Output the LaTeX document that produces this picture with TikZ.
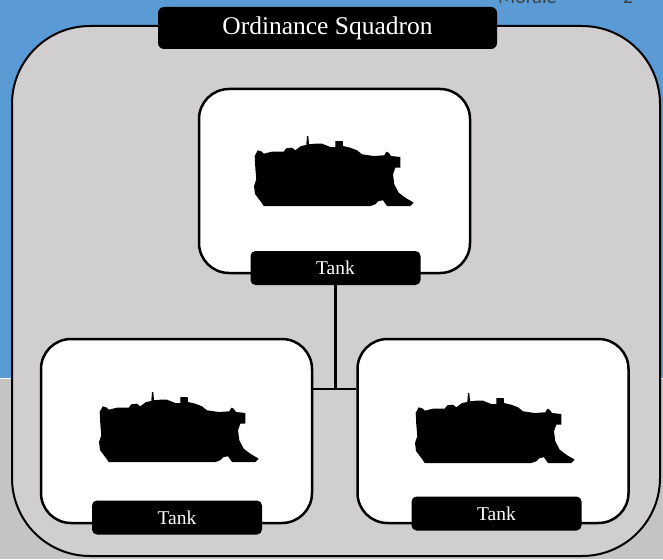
\documentclass[tikz,border=0pt]{standalone}
\usepackage{fontspec}
\newfontfamily\carl{Carlito}
\newfontfamily\labelfont{Liberation Serif}
\definecolor{skyblue}{RGB}{91,155,213}
\definecolor{stone}{RGB}{196,196,196}
\definecolor{panel}{RGB}{208,206,206}
\definecolor{moralegray}{RGB}{64,64,64}
\tikzset{
  outerbox/.style={draw=black, line width=2pt, fill=panel, rounded corners=78pt,
    minimum width=648pt, minimum height=530pt, inner sep=0pt},
  unitbox/.style={draw=black, line width=2.5pt, fill=white, rounded corners=30pt,
    minimum width=271pt, minimum height=184pt, inner sep=0pt},
  titlebox/.style={fill=black, rounded corners=6pt, text=white,
    minimum width=339pt, minimum height=42pt, inner sep=0pt,
    font=\labelfont\fontsize{25.5}{25.5}\selectfont},
  labelbox/.style={fill=black, rounded corners=5pt, text=white,
    minimum width=170pt, minimum height=34pt, inner sep=0pt,
    font=\labelfont\fontsize{19.5}{19.5}\selectfont},
  conn/.style={draw=black, line width=2.5pt},
  tank/.pic={
    \fill[black] (11.7,0) -- (9,-4) -- (6,-8) -- (3,-12) -- (2,-20)
      -- (4.3,-26.7) -- (3.3,-38.3) -- (2.7,-50) -- (5.7,-55.7) -- (10,-54.3)
      -- (11.7,-52.3) -- (20,-54.3) -- (31.7,-54.3) -- (34.3,-57.7) -- (40,-58.3)
      -- (43.3,-55.7) -- (49,-60) -- (54.3,-61) -- (55,-70) -- (56.3,-70)
      -- (57,-61.7) -- (63.3,-62.3) -- (70,-62.3) -- (78.3,-59) -- (83.3,-59)
      -- (83.3,-65) -- (90.7,-65) -- (91,-60) -- (98.3,-58.3) -- (105,-55.7)
      -- (110,-51.7) -- (121.7,-50) -- (132.3,-50.7) -- (134.3,-54.3)
      -- (136.7,-53.3) -- (139,-50) -- (148.3,-49) -- (148.3,-38.3)
      -- (143.3,-38.3) -- (141,-31.7) -- (142.3,-21.7) -- (146.7,-13.3)
      -- (153.3,-8.3) -- (161.7,-3.3) -- (158.3,0) -- (135,0) -- (131,-5.7)
      -- (126.7,-5) -- (123.3,-1.7) -- (118.3,0) -- cycle;
  }
}
\begin{document}
\begin{tikzpicture}[x=1pt, y=-1pt]
\useasboundingbox (0,0) rectangle (663,559);
% background
\fill[skyblue] (0,0) rectangle (663,378);
\fill[stone] (0,378) rectangle (663,559);
\draw[white, line width=1pt] (0,378) -- (663,378);
\node[anchor=base west, text=moralegray, font=\carl\fontsize{20}{20}\selectfont, inner sep=0pt]
  (morale) at (498,3.3) {Morale};
\node[anchor=base west, text=moralegray, font=\carl\fontsize{20}{20}\selectfont, inner sep=0pt]
  (moraleval) at (623,3.3) {2};
% outer panel
\node[outerbox] (outer) at (336,291) {};
\node[titlebox] (title) at (327.5,28) {Ordinance Squadron};
% unit boxes
\node[unitbox] (topbox) at (334.5,181) {};
\node[unitbox] (leftbox) at (176.5,431) {};
\node[unitbox] (rightbox) at (493,431) {};
% tanks
\pic at ([shift={(-82.5,25)}]topbox.center) {tank};
\pic at ([shift={(-79.5,31)}]leftbox.center) {tank};
\pic at ([shift={(-80,32)}]rightbox.center) {tank};
% labels
\node[labelbox] (toplabel) at (335.5,268) {Tank};
\node[labelbox] (leftlabel) at (177,517.5) {Tank};
\node[labelbox] (rightlabel) at (496.5,513.5) {Tank};
% connectors
\coordinate (junc) at (337,389);
\draw[conn] (leftbox.east |- junc) -- (rightbox.west |- junc);
\draw[conn] (toplabel.south) -- (toplabel.south |- junc);
\end{tikzpicture}
\end{document}
